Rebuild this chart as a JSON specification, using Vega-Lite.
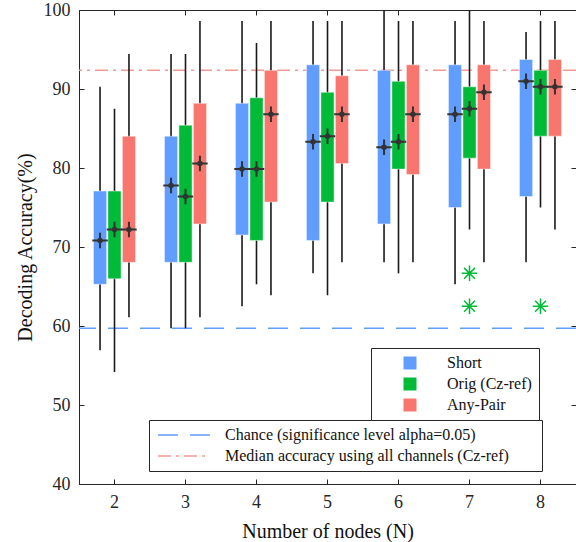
{
  "$schema": "https://vega.github.io/schema/vega-lite/v6.json",
  "width": 497,
  "height": 474,
  "autosize": {"type": "none"},
  "padding": {"left": 79, "top": 10, "right": 0, "bottom": 58},
  "config": {
    "font": "Liberation Serif",
    "view": {"stroke": "#262626", "strokeWidth": 1},
    "axis": {
      "labelFont": "Liberation Serif",
      "labelFontSize": 18,
      "labelColor": "#262626",
      "domainColor": "#262626",
      "tickColor": "#262626",
      "tickSize": -5,
      "grid": false,
      "titleFont": "Liberation Serif",
      "titleFontSize": 20,
      "titleFontWeight": "normal",
      "titleColor": "#111111"
    },
    "legend": {
      "labelFont": "Liberation Serif",
      "labelFontSize": 16,
      "labelColor": "#111111",
      "strokeColor": "#262626",
      "fillColor": "white"
    }
  },
  "datasets": {
    "boxes": [
      {"N": "2", "series": "Short", "lo": 56.94, "q1": 65.28, "med": 70.83, "q3": 77.08, "hi": 90.28},
      {"N": "2", "series": "Orig (Cz-ref)", "lo": 54.17, "q1": 65.97, "med": 72.22, "q3": 77.08, "hi": 87.5},
      {"N": "2", "series": "Any-Pair", "lo": 61.11, "q1": 68.06, "med": 72.22, "q3": 84.03, "hi": 94.44},
      {"N": "3", "series": "Short", "lo": 59.72, "q1": 68.06, "med": 77.78, "q3": 84.03, "hi": 94.44},
      {"N": "3", "series": "Orig (Cz-ref)", "lo": 59.72, "q1": 68.06, "med": 76.39, "q3": 85.42, "hi": 94.44},
      {"N": "3", "series": "Any-Pair", "lo": 61.11, "q1": 72.92, "med": 80.56, "q3": 88.19, "hi": 98.61},
      {"N": "4", "series": "Short", "lo": 62.5, "q1": 71.53, "med": 79.86, "q3": 88.19, "hi": 98.61},
      {"N": "4", "series": "Orig (Cz-ref)", "lo": 65.28, "q1": 70.83, "med": 79.86, "q3": 88.89, "hi": 95.83},
      {"N": "4", "series": "Any-Pair", "lo": 63.89, "q1": 75.69, "med": 86.81, "q3": 92.36, "hi": 98.61},
      {"N": "5", "series": "Short", "lo": 66.67, "q1": 70.83, "med": 83.33, "q3": 93.06, "hi": 98.61},
      {"N": "5", "series": "Orig (Cz-ref)", "lo": 63.89, "q1": 75.69, "med": 84.03, "q3": 89.58, "hi": 98.61},
      {"N": "5", "series": "Any-Pair", "lo": 68.06, "q1": 80.56, "med": 86.81, "q3": 91.67, "hi": 98.61},
      {"N": "6", "series": "Short", "lo": 68.06, "q1": 72.92, "med": 82.64, "q3": 92.36, "hi": 100},
      {"N": "6", "series": "Orig (Cz-ref)", "lo": 66.67, "q1": 79.86, "med": 83.33, "q3": 90.97, "hi": 98.61},
      {"N": "6", "series": "Any-Pair", "lo": 68.06, "q1": 79.17, "med": 86.81, "q3": 93.06, "hi": 98.61},
      {"N": "7", "series": "Short", "lo": 65.28, "q1": 75.0, "med": 86.81, "q3": 93.06, "hi": 98.61},
      {"N": "7", "series": "Orig (Cz-ref)", "lo": 72.22, "q1": 81.25, "med": 87.5, "q3": 90.28, "hi": 100},
      {"N": "7", "series": "Any-Pair", "lo": 68.06, "q1": 79.86, "med": 89.58, "q3": 93.06, "hi": 98.61},
      {"N": "8", "series": "Short", "lo": 68.06, "q1": 76.39, "med": 90.97, "q3": 93.75, "hi": 97.22},
      {"N": "8", "series": "Orig (Cz-ref)", "lo": 75.0, "q1": 84.03, "med": 90.28, "q3": 92.36, "hi": 98.61},
      {"N": "8", "series": "Any-Pair", "lo": 72.22, "q1": 84.03, "med": 90.28, "q3": 93.75, "hi": 98.61}
    ],
    "outliers": [
      {"N": "7", "series": "Orig (Cz-ref)", "value": 66.67},
      {"N": "7", "series": "Orig (Cz-ref)", "value": 62.5},
      {"N": "8", "series": "Orig (Cz-ref)", "value": 62.5}
    ],
    "lines": [
      {"label": "Chance (significance level alpha=0.05)", "value": 59.72},
      {"label": "Median accuracy using all channels (Cz-ref)", "value": 92.36}
    ]
  },
  "layer": [
    {
      "data": {"name": "lines"},
      "mark": {"type": "rule", "strokeWidth": 1.5},
      "encoding": {
        "y": {"field": "value", "type": "quantitative", "scale": {"domain": [40, 100], "nice": false, "zero": false}, "axis": null},
        "color": {
          "field": "label", "type": "nominal",
          "scale": {"domain": ["Chance (significance level alpha=0.05)", "Median accuracy using all channels (Cz-ref)"], "range": ["#619CFF", "#F59A93"]},
          "legend": {
            "title": "\u00a0", "titleOrient": "right", "titlePadding": 26, "titleFontSize": 10,
            "orient": "none", "legendX": 70, "legendY": 410, "symbolType": "stroke", "symbolSize": 2704, "symbolStrokeWidth": 1.5,
            "padding": 7, "symbolOffset": 1, "labelOffset": 14, "rowPadding": 5, "clipHeight": 16, "labelLimit": 0,
            "encode": {"symbols": {"update": {"strokeDash": {"signal": "datum.value === 'Chance (significance level alpha=0.05)' ? [20, 12] : [13, 5, 3, 5]"}}}}
          }
        },
        "strokeDash": {
          "field": "label", "type": "nominal",
          "scale": {"domain": ["Chance (significance level alpha=0.05)", "Median accuracy using all channels (Cz-ref)"], "range": [[20, 12], [13, 5, 3, 5]]},
          "legend": null
        }
      }
    },
    {
      "data": {"name": "boxes"},
      "mark": {"type": "rule", "color": "#1a1a1a", "strokeWidth": 1.6},
      "encoding": {
        "x": {"field": "N", "type": "ordinal", "scale": {"paddingInner": 0, "paddingOuter": 0},
          "axis": {"orient": "bottom", "labelAngle": 0, "title": "Number of nodes (N)", "labelPadding": 14, "titlePadding": 10}},
        "xOffset": {"field": "series", "type": "nominal", "sort": ["Short", "Orig (Cz-ref)", "Any-Pair"],
          "scale": {"domain": ["Short", "Orig (Cz-ref)", "Any-Pair"], "paddingInner": 0.09, "paddingOuter": 1.55}},
        "y": {"field": "lo", "type": "quantitative", "scale": {"domain": [40, 100], "nice": false, "zero": false},
          "axis": {"orient": "left", "values": [40, 50, 60, 70, 80, 90, 100], "title": "Decoding Accuracy(%)", "labelPadding": 14, "titlePadding": 8}},
        "y2": {"field": "hi"}
      }
    },
    {
      "data": {"name": "boxes"},
      "mark": {"type": "bar", "stroke": "white", "strokeOpacity": 0.45, "strokeWidth": 1},
      "encoding": {
        "x": {"field": "N", "type": "ordinal", "axis": {"orient": "top", "labels": false, "title": null, "domain": false}},
        "xOffset": {"field": "series", "type": "nominal", "sort": ["Short", "Orig (Cz-ref)", "Any-Pair"]},
        "y": {"field": "q1", "type": "quantitative", "axis": {"orient": "right", "labels": false, "title": null, "domain": false, "values": [40, 50, 60, 70, 80, 90, 100]}},
        "y2": {"field": "q3"},
        "color": {
          "field": "series", "type": "nominal",
          "scale": {"domain": ["Short", "Orig (Cz-ref)", "Any-Pair"], "range": ["#619CFF", "#00BA38", "#F8766D"]},
          "legend": {"title": null, "orient": "none", "legendX": 292, "legendY": 338, "symbolType": "square", "symbolSize": 169, "symbolStrokeWidth": 0, "padding": 7, "symbolOffset": 24, "labelOffset": 29, "rowPadding": 5}
        }
      }
    },
    {
      "data": {"name": "boxes"},
      "mark": {"type": "point", "shape": "M-1,0L1,0M0,-1L0,1", "size": 240, "filled": false, "stroke": "#333333", "strokeWidth": 2, "opacity": 1},
      "encoding": {
        "x": {"field": "N", "type": "ordinal", "axis": null},
        "xOffset": {"field": "series", "type": "nominal", "sort": ["Short", "Orig (Cz-ref)", "Any-Pair"]},
        "y": {"field": "med", "type": "quantitative", "axis": null}
      }
    },
    {
      "data": {"name": "boxes"},
      "mark": {"type": "point", "shape": "circle", "size": 30, "filled": true, "color": "#333333", "opacity": 1},
      "encoding": {
        "x": {"field": "N", "type": "ordinal", "axis": null},
        "xOffset": {"field": "series", "type": "nominal", "sort": ["Short", "Orig (Cz-ref)", "Any-Pair"]},
        "y": {"field": "med", "type": "quantitative", "axis": null}
      }
    },
    {
      "data": {"name": "outliers"},
      "mark": {"type": "point", "shape": "M-1,0L1,0M0,-1L0,1M-0.7,-0.7L0.7,0.7M-0.7,0.7L0.7,-0.7", "size": 240, "filled": false, "stroke": "#00BA38", "strokeWidth": 1.5, "opacity": 1},
      "encoding": {
        "x": {"field": "N", "type": "ordinal", "axis": null},
        "xOffset": {"field": "series", "type": "nominal", "sort": ["Short", "Orig (Cz-ref)", "Any-Pair"]},
        "y": {"field": "value", "type": "quantitative", "axis": null}
      }
    }
  ],
  "resolve": {"scale": {"color": "independent"}, "axis": {"x": "independent", "y": "independent"}}
}
